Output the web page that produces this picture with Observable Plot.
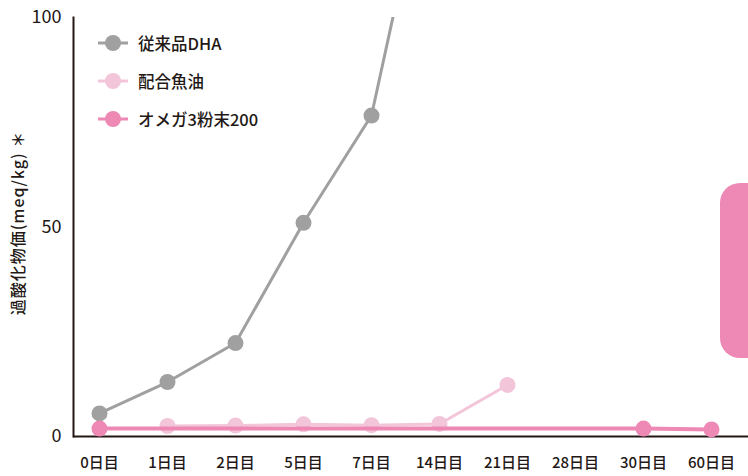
<!DOCTYPE html>
<html>
<head>
<meta charset="utf-8">
<script src="https://cdn.jsdelivr.net/npm/d3@7"></script>
<script src="https://cdn.jsdelivr.net/npm/@observablehq/plot@0.6"></script>
<style>
  body { margin: 0; background: #fff; }
  #wrap { position: relative; width: 748px; height: 476px; overflow: hidden; font-family: "Noto Sans CJK JP", "Noto Sans", sans-serif; }
  #wrap > svg { position: absolute; left: 0; top: 0; }
  #tab { position: absolute; left: 720px; top: 183px; width: 60px; height: 175px; background: #ee88b4; border-radius: 20px; }
  #legend { position: absolute; left: 96px; top: 24px; }
  .item { display: flex; align-items: center; height: 38px; font-size: 16.5px; font-weight: 500; color: #231815; }
  .item svg { margin-right: 8px; }
  #ylabel { position: absolute; left: 17px; top: 223px; transform: translate(-50%, -50%) rotate(-90deg); white-space: nowrap; font-size: 16px; letter-spacing: 1px; font-weight: 500; color: #231815; }
</style>
</head>
<body>
<div id="wrap"><div id="tab"></div><div id="legend"></div><div id="ylabel"></div></div>
<script>
const days = ["0日目","1日目","2日目","5日目","7日目","14日目","21日目","28日目","30日目","60日目"];
const yTicks = [0, 50, 100];
const yLabel = "過酸化物価(meq/kg) ＊";

const seriesNames = ["従来品DHA", "配合魚油", "オメガ3粉末200"];
const seriesColors = ["#a0a0a0", "#f2c5d8", "#ee88b4"];

const conventionalDays = ["0日目","1日目","2日目","5日目","7日目","14日目"];
const conventionalValues = [5.5, 13, 22.3, 51, 76.6, 151];

const blendedDays = ["1日目","2日目","5日目","7日目","14日目","21日目"];
const blendedValues = [2.5, 2.6, 2.9, 2.7, 3.0, 12.3];

const omegaDays = ["0日目","30日目","60日目"];
const omegaValues = [1.9, 1.9, 1.7];

const toRows = (ds, vs) => ds.map((d, i) => ({day: d, value: vs[i]}));
const conv = toRows(conventionalDays, conventionalValues);
const blend = toRows(blendedDays, blendedValues);
const omega = toRows(omegaDays, omegaValues);

const plot = Plot.plot({
  width: 748,
  height: 476,
  marginLeft: 73,
  marginRight: 0,
  marginTop: 17,
  marginBottom: 40,
  style: {fontFamily: '"Noto Sans CJK JP", "Noto Sans", sans-serif', fontSize: "15px", color: "#231815", background: "transparent"},
  x: {type: "point", domain: days, range: [98, 711], padding: 0, label: null},
  y: {domain: [0, 100], label: null},
  marks: [
    Plot.axisX({tickSize: 0, tickPadding: 21, fontWeight: 500, label: null}),
    Plot.axisY({ticks: yTicks, tickSize: 0, tickPadding: 12, label: null}),
    Plot.ruleY([0], {stroke: "#231815", strokeWidth: 2}),
    Plot.frame({anchor: "left", stroke: "#231815", strokeWidth: 2}),
    Plot.line(conv, {x: "day", y: "value", stroke: seriesColors[0], strokeWidth: 3, clip: true}),
    Plot.dot(conv.filter(d => d.value <= 100), {x: "day", y: "value", r: 8, fill: seriesColors[0]}),
    Plot.line(blend, {x: "day", y: "value", stroke: seriesColors[1], strokeWidth: 3}),
    Plot.dot(blend, {x: "day", y: "value", r: 8, fill: seriesColors[1]}),
    Plot.line(omega, {x: "day", y: "value", stroke: seriesColors[2], strokeWidth: 4}),
    Plot.dot(omega, {x: "day", y: "value", r: 8, fill: seriesColors[2]})
  ]
});
const wrap = document.getElementById("wrap");
wrap.insertBefore(plot, wrap.firstChild);
document.getElementById("ylabel").textContent = yLabel;

// enlarge the y tick labels
const yTickStrings = yTicks.map(String);
d3.select(plot).selectAll("text")
  .filter(function() { return yTickStrings.includes(this.textContent.trim()); })
  .attr("font-size", 18)
  .style("font-size", "18px");

const legend = document.getElementById("legend");
seriesNames.forEach((name, i) => {
  const div = document.createElement("div");
  div.className = "item";
  div.innerHTML = `<svg width="34" height="20"><line x1="2" x2="32" y1="10" y2="10" stroke="${seriesColors[i]}" stroke-width="3"/><circle cx="17" cy="10" r="8" fill="${seriesColors[i]}"/></svg><span>${name}</span>`;
  legend.appendChild(div);
});
</script>
</body>
</html>
